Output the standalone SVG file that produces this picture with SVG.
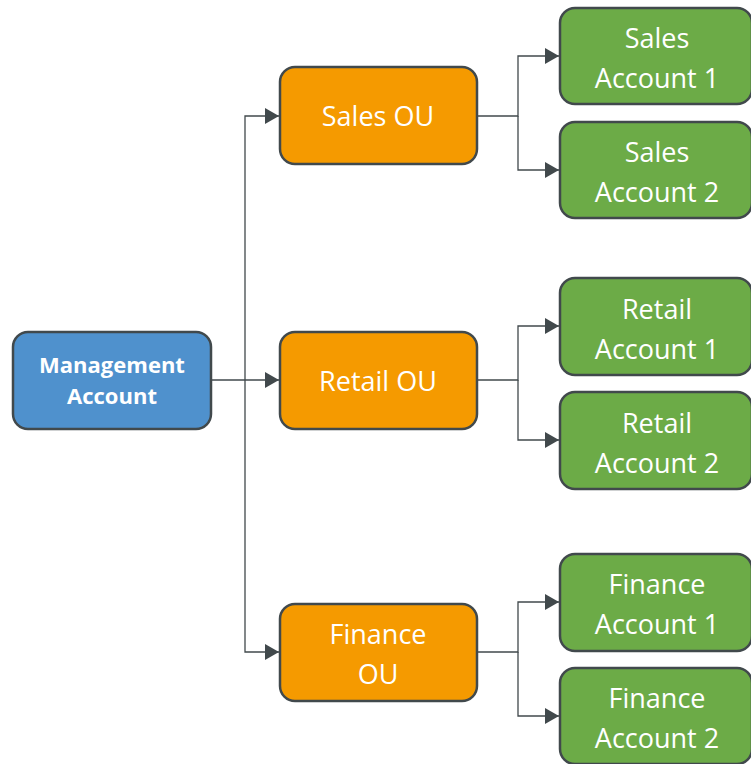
<svg xmlns="http://www.w3.org/2000/svg" width="751" height="764" viewBox="0 0 751 764">
<defs>
<marker id="arr" viewBox="0 0 14 16" refX="14" refY="8" markerWidth="14" markerHeight="16" markerUnits="userSpaceOnUse" orient="auto">
<path d="M0,0 L14,8 L0,16 z" fill="#41494c"/>
</marker>
<style>
.box{stroke:#41494c;stroke-width:2.5}
.mg{fill:#4f91cd}
.ou{fill:#f59a00}
.ac{fill:#6cab47}
text{font-family:"Open Sans","Noto Sans",sans-serif;fill:#fff;text-anchor:middle}
.t{font-size:27px}
.b{font-size:22px;font-weight:bold}
.c{fill:none;stroke:#41494c;stroke-width:1.3}
</style>
</defs>
<rect width="751" height="764" fill="#fff"/>
<g id="connectors">
<path class="c" d="M211,380 H279" marker-end="url(#arr)"/>
<path class="c" d="M245,380 V116 H279" marker-end="url(#arr)"/>
<path class="c" d="M245,380 V652 H279" marker-end="url(#arr)"/>
<path class="c" d="M477,116 H518 V56 H559" marker-end="url(#arr)"/>
<path class="c" d="M518,116 V170 H559" marker-end="url(#arr)"/>
<path class="c" d="M477,380 H518 V326 H559" marker-end="url(#arr)"/>
<path class="c" d="M518,380 V440 H559" marker-end="url(#arr)"/>
<path class="c" d="M477,652 H518 V602 H559" marker-end="url(#arr)"/>
<path class="c" d="M518,652 V716 H559" marker-end="url(#arr)"/>
</g>
<g id="management">
<rect class="box mg" x="13" y="332" width="198" height="97" rx="15"/>
<text class="b" x="112" y="373">Management</text>
<text class="b" x="112" y="404">Account</text>
</g>
<g id="sales-ou">
<rect class="box ou" x="280" y="67" width="197" height="97" rx="15"/>
<text class="t" x="378" y="126">Sales OU</text>
</g>
<g id="retail-ou">
<rect class="box ou" x="280" y="332" width="197" height="97" rx="15"/>
<text class="t" x="378" y="391">Retail OU</text>
</g>
<g id="finance-ou">
<rect class="box ou" x="280" y="604" width="197" height="97" rx="15"/>
<text class="t" x="378" y="644">Finance</text>
<text class="t" x="378" y="684">OU</text>
</g>
<g id="sales-account-1">
<rect class="box ac" x="560" y="8" width="192" height="96" rx="15"/>
<text class="t" x="657" y="48">Sales</text>
<text class="t" x="657" y="88">Account 1</text>
</g>
<g id="sales-account-2">
<rect class="box ac" x="560" y="122" width="192" height="96" rx="15"/>
<text class="t" x="657" y="162">Sales</text>
<text class="t" x="657" y="202">Account 2</text>
</g>
<g id="retail-account-1">
<rect class="box ac" x="560" y="278" width="192" height="97" rx="15"/>
<text class="t" x="657" y="319">Retail</text>
<text class="t" x="657" y="359">Account 1</text>
</g>
<g id="retail-account-2">
<rect class="box ac" x="560" y="392" width="192" height="97" rx="15"/>
<text class="t" x="657" y="433">Retail</text>
<text class="t" x="657" y="473">Account 2</text>
</g>
<g id="finance-account-1">
<rect class="box ac" x="560" y="554" width="192" height="97" rx="15"/>
<text class="t" x="657" y="594">Finance</text>
<text class="t" x="657" y="634">Account 1</text>
</g>
<g id="finance-account-2">
<rect class="box ac" x="560" y="668" width="192" height="96" rx="15"/>
<text class="t" x="657" y="708">Finance</text>
<text class="t" x="657" y="748">Account 2</text>
</g>
</svg>
